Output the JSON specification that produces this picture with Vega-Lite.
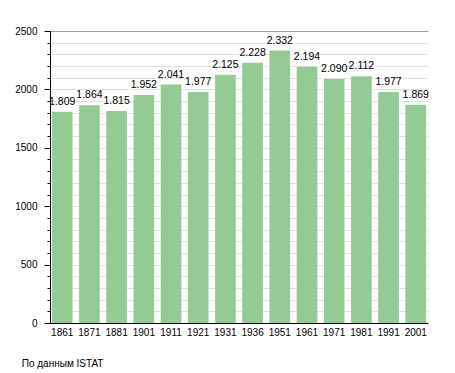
{
  "$schema": "https://vega.github.io/schema/vega-lite/v6.json",
  "autosize": {"type": "none"},
  "padding": {"left": 50, "top": 31, "right": 27, "bottom": 50},
  "width": 378,
  "height": 292,
  "background": "white",
  "title": {"text": "По данным  ISTAT", "orient": "bottom", "anchor": "start", "frame": "bounds", "fontSize": 10, "fontWeight": "normal", "font": "Liberation Sans", "color": "#000", "offset": 22, "dx": 7},
  "config": {
    "view": {"stroke": null},
    "font": "Liberation Sans",
    "locale": {"number": {"decimal": ",", "thousands": ".", "grouping": [3], "currency": ["", " €"]}},
    "axis": {"labelFont": "Liberation Sans", "labelFontSize": 10, "labelColor": "#000", "domainColor": "#000", "tickColor": "#000", "title": null}
  },
  "data": {"values": [
    {"year": "1861", "pop": 1809},
    {"year": "1871", "pop": 1864},
    {"year": "1881", "pop": 1815},
    {"year": "1901", "pop": 1952},
    {"year": "1911", "pop": 2041},
    {"year": "1921", "pop": 1977},
    {"year": "1931", "pop": 2125},
    {"year": "1936", "pop": 2228},
    {"year": "1951", "pop": 2332},
    {"year": "1961", "pop": 2194},
    {"year": "1971", "pop": 2090},
    {"year": "1981", "pop": 2112},
    {"year": "1991", "pop": 1977},
    {"year": "2001", "pop": 1869}
  ]},
  "encoding": {
    "x": {"field": "year", "type": "ordinal", "sort": null,
      "scale": {"paddingInner": 0.24, "paddingOuter": 0.07},
      "axis": {"labelAngle": 0, "tickSize": 0, "labelPadding": 4, "domainColor": "#000"}}
  },
  "layer": [
    {
      "mark": {"type": "bar", "color": "#94cb94"},
      "encoding": {
        "y": {"field": "pop", "type": "quantitative",
          "scale": {"domain": [0, 2500], "nice": false},
          "axis": {"orient": "left", "values": [0,100,200,300,400,500,600,700,800,900,1000,1100,1200,1300,1400,1500,1600,1700,1800,1900,2000,2100,2200,2300,2400,2500],
            "labels": false, "tickSize": 3, "grid": true,
            "gridColor": {"condition": {"test": "datum.value === 2500", "value": "#a0a0a0"}, "value": "#e2e2e2"},
            "domain": true}}
      }
    },
    {
      "mark": {"type": "text", "baseline": "bottom", "dy": -5, "fontSize": 10.5, "color": "#000"},
      "encoding": {
        "y": {"field": "pop", "type": "quantitative",
          "scale": {"domain": [0, 2500], "nice": false},
          "axis": {"orient": "left", "values": [0, 500, 1000, 1500, 2000, 2500], "format": "d", "tickSize": 6, "labelPadding": 7, "grid": false, "domain": false}},
        "text": {"field": "pop", "type": "quantitative", "format": ",d"}
      }
    }
  ],
  "resolve": {"axis": {"y": "independent"}}
}
